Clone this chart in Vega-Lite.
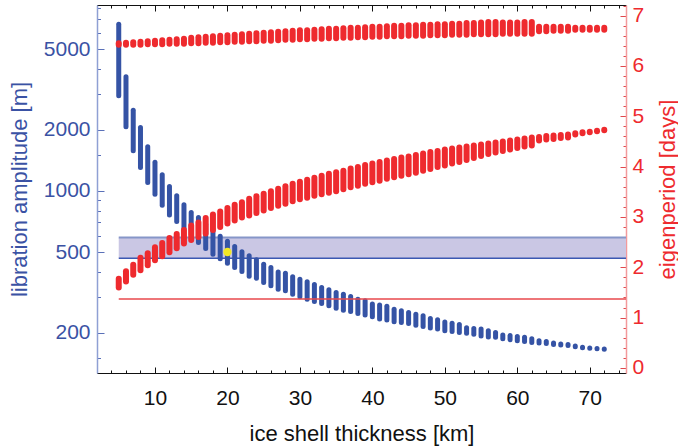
{
  "$schema": "https://vega.github.io/schema/vega-lite/v6.json",
  "width": 529,
  "height": 368,
  "autosize": "none",
  "padding": {"left": 97, "top": 5, "right": 52, "bottom": 75},
  "background": "white",
  "config": {
    "view": {"stroke": null},
    "axis": {"labelFont": "Liberation Sans", "titleFont": "Liberation Sans", "labelFontSize": 21, "titleFontSize": 22, "titleFontWeight": "normal", "grid": false, "labelOverlap": false, "labelFlush": false, "ticks": true}
  },
  "datasets": {
    "band": [{"k": 5, "k2": 75, "lo": 466, "hi": 590}],
    "yellow": [{"k": 20, "lo": 500}],
    "orbit": [{"k": 5, "k2": 75, "lo": 1.37}],
    "blue": [
      {"k":5,"lo":2941,"hi":6627},{"k":6,"lo":2069,"hi":3648},{"k":7,"lo":1576,"hi":2497},{"k":8,"lo":1304,"hi":2053},
      {"k":9,"lo":1100,"hi":1649},{"k":10,"lo":963,"hi":1385},{"k":11,"lo":850,"hi":1200},{"k":12,"lo":760,"hi":1052},
      {"k":13,"lo":707,"hi":946},{"k":14,"lo":655,"hi":856},{"k":15,"lo":612,"hi":783},{"k":16,"lo":557,"hi":739},
      {"k":17,"lo":521,"hi":686},{"k":18,"lo":488,"hi":647},{"k":19,"lo":463,"hi":598},{"k":20,"lo":440,"hi":565},
      {"k":21,"lo":419,"hi":532},{"k":22,"lo":401,"hi":501},{"k":23,"lo":380,"hi":479},{"k":24,"lo":371,"hi":458},
      {"k":25,"lo":354,"hi":435},{"k":26,"lo":341,"hi":419},{"k":27,"lo":328,"hi":399},{"k":28,"lo":322,"hi":393},
      {"k":29,"lo":310,"hi":378},{"k":30,"lo":301,"hi":367},{"k":31,"lo":293,"hi":357},{"k":32,"lo":285,"hi":346},
      {"k":33,"lo":279,"hi":334},{"k":34,"lo":272,"hi":326},{"k":35,"lo":264,"hi":316},{"k":36,"lo":258,"hi":310},
      {"k":37,"lo":255,"hi":302},{"k":38,"lo":249,"hi":293},{"k":39,"lo":245,"hi":288},{"k":40,"lo":240,"hi":277},
      {"k":41,"lo":234,"hi":274},{"k":42,"lo":231,"hi":270},{"k":43,"lo":227,"hi":261},{"k":44,"lo":225,"hi":257},
      {"k":45,"lo":222,"hi":252},{"k":46,"lo":218,"hi":247},{"k":47,"lo":215,"hi":243},{"k":48,"lo":211,"hi":235},
      {"k":49,"lo":209,"hi":232},{"k":50,"lo":205,"hi":226},{"k":51,"lo":203,"hi":223},{"k":52,"lo":201,"hi":220},
      {"k":53,"lo":199,"hi":212},{"k":54,"lo":197,"hi":210},{"k":55,"lo":193,"hi":209},{"k":56,"lo":191,"hi":205},
      {"k":57,"lo":190,"hi":201},{"k":58,"lo":187,"hi":195},{"k":59,"lo":185,"hi":194},{"k":60,"lo":183,"hi":192},
      {"k":61,"lo":181,"hi":190},{"k":62,"lo":179,"hi":187},{"k":63,"lo":178,"hi":183},{"k":64,"lo":177,"hi":181},
      {"k":65,"lo":175,"hi":178},{"k":66,"lo":174,"hi":176},{"k":67,"lo":173,"hi":175},{"k":68,"lo":171,"hi":172},
      {"k":69,"lo":169,"hi":170},{"k":70,"lo":168,"hi":168.5},{"k":71,"lo":167,"hi":167.5},{"k":72,"lo":166,"hi":166.5}
    ],
    "redUp": [
      {"k":5,"lo":6.42,"hi":6.45},{"k":6,"lo":6.42,"hi":6.46},{"k":7,"lo":6.42,"hi":6.47},{"k":8,"lo":6.42,"hi":6.48},
      {"k":9,"lo":6.43,"hi":6.49},{"k":10,"lo":6.43,"hi":6.50},{"k":11,"lo":6.43,"hi":6.51},{"k":12,"lo":6.44,"hi":6.52},
      {"k":13,"lo":6.44,"hi":6.53},{"k":14,"lo":6.44,"hi":6.54},{"k":15,"lo":6.45,"hi":6.56},{"k":16,"lo":6.45,"hi":6.57},
      {"k":17,"lo":6.46,"hi":6.58},{"k":18,"lo":6.46,"hi":6.59},{"k":19,"lo":6.47,"hi":6.60},{"k":20,"lo":6.47,"hi":6.61},
      {"k":21,"lo":6.48,"hi":6.62},{"k":22,"lo":6.48,"hi":6.63},{"k":23,"lo":6.49,"hi":6.64},{"k":24,"lo":6.49,"hi":6.65},
      {"k":25,"lo":6.50,"hi":6.66},{"k":26,"lo":6.50,"hi":6.67},{"k":27,"lo":6.51,"hi":6.68},{"k":28,"lo":6.52,"hi":6.69},
      {"k":29,"lo":6.52,"hi":6.70},{"k":30,"lo":6.53,"hi":6.71},{"k":31,"lo":6.53,"hi":6.71},{"k":32,"lo":6.54,"hi":6.72},
      {"k":33,"lo":6.54,"hi":6.73},{"k":34,"lo":6.55,"hi":6.74},{"k":35,"lo":6.55,"hi":6.74},{"k":36,"lo":6.56,"hi":6.75},
      {"k":37,"lo":6.56,"hi":6.76},{"k":38,"lo":6.57,"hi":6.76},{"k":39,"lo":6.57,"hi":6.77},{"k":40,"lo":6.58,"hi":6.78},
      {"k":41,"lo":6.58,"hi":6.78},{"k":42,"lo":6.59,"hi":6.79},{"k":43,"lo":6.59,"hi":6.80},{"k":44,"lo":6.59,"hi":6.80},
      {"k":45,"lo":6.60,"hi":6.81},{"k":46,"lo":6.60,"hi":6.81},{"k":47,"lo":6.60,"hi":6.82},{"k":48,"lo":6.61,"hi":6.82},
      {"k":49,"lo":6.61,"hi":6.83},{"k":50,"lo":6.61,"hi":6.83},{"k":51,"lo":6.62,"hi":6.84},{"k":52,"lo":6.62,"hi":6.84},
      {"k":53,"lo":6.62,"hi":6.85},{"k":54,"lo":6.63,"hi":6.85},{"k":55,"lo":6.63,"hi":6.86},{"k":56,"lo":6.63,"hi":6.87},
      {"k":57,"lo":6.63,"hi":6.87},{"k":58,"lo":6.64,"hi":6.86},{"k":59,"lo":6.64,"hi":6.86},{"k":60,"lo":6.64,"hi":6.86},
      {"k":61,"lo":6.64,"hi":6.87},{"k":62,"lo":6.64,"hi":6.87},{"k":63,"lo":6.69,"hi":6.78},{"k":64,"lo":6.69,"hi":6.78},
      {"k":65,"lo":6.70,"hi":6.78},{"k":66,"lo":6.70,"hi":6.78},{"k":67,"lo":6.70,"hi":6.78},{"k":68,"lo":6.72,"hi":6.76},
      {"k":69,"lo":6.72,"hi":6.76},{"k":70,"lo":6.72,"hi":6.76},{"k":71,"lo":6.72,"hi":6.76},{"k":72,"lo":6.72,"hi":6.76}
    ],
    "redMid": [
      {"k":5,"lo":1.60,"hi":1.77},{"k":6,"lo":1.72,"hi":1.92},{"k":7,"lo":1.85,"hi":2.05},{"k":8,"lo":1.94,"hi":2.19},
      {"k":9,"lo":2.04,"hi":2.28},{"k":10,"lo":2.14,"hi":2.40},{"k":11,"lo":2.22,"hi":2.48},{"k":12,"lo":2.30,"hi":2.58},
      {"k":13,"lo":2.38,"hi":2.66},{"k":14,"lo":2.47,"hi":2.74},{"k":15,"lo":2.54,"hi":2.83},{"k":16,"lo":2.60,"hi":2.89},
      {"k":17,"lo":2.67,"hi":2.98},{"k":18,"lo":2.74,"hi":3.05},{"k":19,"lo":2.80,"hi":3.11},{"k":20,"lo":2.87,"hi":3.18},
      {"k":21,"lo":2.93,"hi":3.24},{"k":22,"lo":2.99,"hi":3.29},{"k":23,"lo":3.03,"hi":3.36},{"k":24,"lo":3.08,"hi":3.41},
      {"k":25,"lo":3.13,"hi":3.46},{"k":26,"lo":3.18,"hi":3.51},{"k":27,"lo":3.22,"hi":3.56},{"k":28,"lo":3.26,"hi":3.61},
      {"k":29,"lo":3.31,"hi":3.66},{"k":30,"lo":3.35,"hi":3.70},{"k":31,"lo":3.38,"hi":3.74},{"k":32,"lo":3.42,"hi":3.78},
      {"k":33,"lo":3.45,"hi":3.82},{"k":34,"lo":3.48,"hi":3.86},{"k":35,"lo":3.51,"hi":3.89},{"k":36,"lo":3.55,"hi":3.92},
      {"k":37,"lo":3.59,"hi":3.96},{"k":38,"lo":3.62,"hi":3.99},{"k":39,"lo":3.66,"hi":4.03},{"k":40,"lo":3.69,"hi":4.06},
      {"k":41,"lo":3.72,"hi":4.09},{"k":42,"lo":3.76,"hi":4.12},{"k":43,"lo":3.79,"hi":4.15},{"k":44,"lo":3.82,"hi":4.18},
      {"k":45,"lo":3.85,"hi":4.20},{"k":46,"lo":3.88,"hi":4.23},{"k":47,"lo":3.92,"hi":4.26},{"k":48,"lo":3.95,"hi":4.29},
      {"k":49,"lo":3.99,"hi":4.31},{"k":50,"lo":4.02,"hi":4.34},{"k":51,"lo":4.06,"hi":4.36},{"k":52,"lo":4.09,"hi":4.38},
      {"k":53,"lo":4.13,"hi":4.40},{"k":54,"lo":4.17,"hi":4.42},{"k":55,"lo":4.21,"hi":4.44},{"k":56,"lo":4.25,"hi":4.46},
      {"k":57,"lo":4.28,"hi":4.48},{"k":58,"lo":4.31,"hi":4.50},{"k":59,"lo":4.34,"hi":4.52},{"k":60,"lo":4.37,"hi":4.54},
      {"k":61,"lo":4.40,"hi":4.56},{"k":62,"lo":4.42,"hi":4.58},{"k":63,"lo":4.52,"hi":4.59},{"k":64,"lo":4.54,"hi":4.61},
      {"k":65,"lo":4.55,"hi":4.62},{"k":66,"lo":4.57,"hi":4.63},{"k":67,"lo":4.58,"hi":4.64},{"k":68,"lo":4.64,"hi":4.66},
      {"k":69,"lo":4.66,"hi":4.68},{"k":70,"lo":4.68,"hi":4.69},{"k":71,"lo":4.70,"hi":4.71},{"k":72,"lo":4.72,"hi":4.73}
    ]
  },
  "layer": [
    {
      "layer": [
        {
          "data": {"name": "band"},
          "mark": {"type": "rect", "fill": "#cac7e4"},
          "encoding": {
            "x": {"field": "k", "type": "quantitative", "scale": {"domain": [2, 75], "nice": false, "zero": false},
              "axis": {"orient": "bottom", "title": "ice shell thickness [km]", "titleColor": "#111111", "titleX": 264.5, "titleY": 60, "titleBaseline": "middle", "titleAlign": "center",
                "values": [2,4,6,8,10,12,14,16,18,20,22,24,26,28,30,32,34,36,38,40,42,44,46,48,50,52,54,56,58,60,62,64,66,68,70,72,74],
                "tickCount": 200,
                "format": "d",
                "labelExpr": "datum.value % 10 === 0 ? datum.label : ''",
                "tickSize": {"condition": {"test": "datum.value % 10 === 0", "value": -6}, "value": -3},
                "labelPadding": 20, "labelColor": "#111111", "domainColor": "#111111", "tickColor": "#111111", "domainWidth": 1, "tickWidth": 1}},
            "x2": {"field": "k2"},
            "y": {"field": "lo", "type": "quantitative", "scale": {"type": "log", "domain": [126.8, 8237], "nice": false},
              "axis": {"orient": "left", "title": "libration amplitude [m]", "titleColor": "#3a52a4", "titleX": -78, "titleY": 184, "titleAngle": 270, "titleAlign": "center", "titleBaseline": "middle",
                "values": [150,200,300,400,500,600,700,800,900,1000,1500,2000,3000,4000,5000,6000,7000,8000],
                "tickCount": 200,
                "format": "d",
                "labelExpr": "indexof([200,500,1000,2000,5000], datum.value) >= 0 ? datum.label : ''",
                "tickSize": {"condition": {"test": "indexof([200,500,1000,2000,5000], datum.value) >= 0", "value": -7}, "value": -3.5},
                "labelPadding": 14, "labelColor": "#3a52a4", "domainColor": "#8fa0d4", "domainWidth": 1.5, "tickColor": "#5a70b8", "tickWidth": 1}},
            "y2": {"field": "hi"}
          }
        },
        {
          "data": {"name": "band"},
          "mark": {"type": "rule", "color": "#8696c8", "strokeWidth": 2},
          "encoding": {
            "x": {"field": "k", "type": "quantitative", "scale": {"domain": [2, 75], "nice": false, "zero": false}},
            "x2": {"field": "k2"},
            "y": {"field": "hi", "type": "quantitative", "scale": {"type": "log", "domain": [126.8, 8237], "nice": false}}
          }
        },
        {
          "data": {"name": "band"},
          "mark": {"type": "rule", "color": "#3b58b2", "strokeWidth": 1.5},
          "encoding": {
            "x": {"field": "k", "type": "quantitative", "scale": {"domain": [2, 75], "nice": false, "zero": false}},
            "x2": {"field": "k2"},
            "y": {"field": "lo", "type": "quantitative", "scale": {"type": "log", "domain": [126.8, 8237], "nice": false}}
          }
        },
        {
          "data": {"name": "blue"},
          "mark": {"type": "rule", "color": "#3553a5", "strokeWidth": 5, "strokeCap": "round"},
          "encoding": {
            "x": {"field": "k", "type": "quantitative", "scale": {"domain": [2, 75], "nice": false, "zero": false}},
            "y": {"field": "lo", "type": "quantitative", "scale": {"type": "log", "domain": [126.8, 8237], "nice": false}},
            "y2": {"field": "hi"}
          }
        },
        {
          "data": {"name": "yellow"},
          "mark": {"type": "point", "filled": true, "color": "#f2e824", "size": 70, "opacity": 1},
          "encoding": {
            "x": {"field": "k", "type": "quantitative", "scale": {"domain": [2, 75], "nice": false, "zero": false}},
            "y": {"field": "lo", "type": "quantitative", "scale": {"type": "log", "domain": [126.8, 8237], "nice": false}}
          }
        }
      ]
    },
    {
      "layer": [
        {
          "data": {"name": "orbit"},
          "mark": {"type": "rule", "color": "#e8484d", "strokeWidth": 1.5},
          "encoding": {
            "x": {"field": "k", "type": "quantitative", "scale": {"domain": [2, 75], "nice": false, "zero": false},
              "axis": {"orient": "top", "title": null, "labels": false,
                "values": [2,4,6,8,10,12,14,16,18,20,22,24,26,28,30,32,34,36,38,40,42,44,46,48,50,52,54,56,58,60,62,64,66,68,70,72,74],
                "tickCount": 200,
                "tickSize": {"condition": {"test": "datum.value % 10 === 0", "value": -6}, "value": -3},
                "domainColor": "#111111", "tickColor": "#111111", "domainWidth": 1, "tickWidth": 1}},
            "x2": {"field": "k2"},
            "y": {"field": "lo", "type": "quantitative", "scale": {"domain": [-0.1, 7.21], "nice": false, "zero": false},
              "axis": {"orient": "right", "title": "eigenperiod [days]", "titleColor": "#ee2a2e", "titleX": 41, "titleY": 184, "titleAngle": 270, "titleAlign": "center", "titleBaseline": "middle",
                "values": [0,0.2,0.4,0.6,0.8,1,1.2,1.4,1.6,1.8,2,2.2,2.4,2.6,2.8,3,3.2,3.4,3.6,3.8,4,4.2,4.4,4.6,4.8,5,5.2,5.4,5.6,5.8,6,6.2,6.4,6.6,6.8,7,7.2],
                "tickCount": 200,
                "labelExpr": "abs(datum.value - round(datum.value)) < 0.01 ? format(datum.value, 'd') : ''",
                "tickSize": {"condition": {"test": "abs(datum.value - round(datum.value)) < 0.01", "value": -6}, "value": -3},
                "labelPadding": 12, "labelColor": "#ee2a2e", "domainColor": "#f29a9c", "domainWidth": 1.5, "tickColor": "#e0484c", "tickWidth": 1}}
          }
        },
        {
          "data": {"name": "redUp"},
          "mark": {"type": "rule", "color": "#ee2a2e", "strokeWidth": 6, "strokeCap": "round"},
          "encoding": {
            "x": {"field": "k", "type": "quantitative", "scale": {"domain": [2, 75], "nice": false, "zero": false}},
            "y": {"field": "lo", "type": "quantitative", "scale": {"domain": [-0.1, 7.21], "nice": false, "zero": false}},
            "y2": {"field": "hi"}
          }
        },
        {
          "data": {"name": "redMid"},
          "mark": {"type": "rule", "color": "#ee2a2e", "strokeWidth": 6, "strokeCap": "round"},
          "encoding": {
            "x": {"field": "k", "type": "quantitative", "scale": {"domain": [2, 75], "nice": false, "zero": false}},
            "y": {"field": "lo", "type": "quantitative", "scale": {"domain": [-0.1, 7.21], "nice": false, "zero": false}},
            "y2": {"field": "hi"}
          }
        }
      ]
    }
  ],
  "resolve": {"scale": {"y": "independent"}, "axis": {"x": "independent"}}
}
